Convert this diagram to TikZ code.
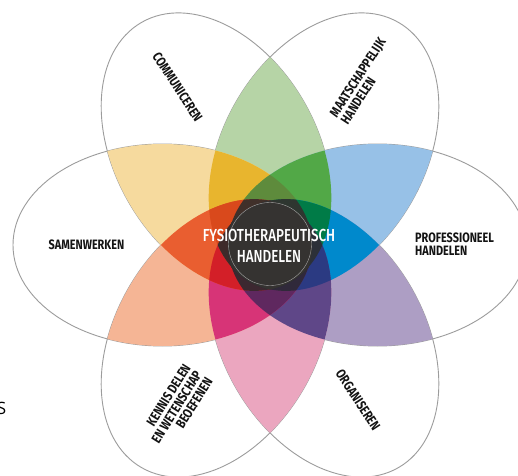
\documentclass[tikz,border=0pt]{standalone}
\usepackage{fontspec}
\setmainfont{Fira Sans}
\newfontfamily\labfont[FakeStretch=0.8]{Fira Sans Bold}
\newfontfamily\ctrfont[FakeStretch=0.77]{Fira Sans Medium}
\newfontfamily\sfont{Open Sans}
\definecolor{cLG}{HTML}{B6D4A6}
\definecolor{cLB}{HTML}{97C1E7}
\definecolor{cLP}{HTML}{AD9EC4}
\definecolor{cPK}{HTML}{EBA6BF}
\definecolor{cSA}{HTML}{F5B595}
\definecolor{cLY}{HTML}{F6DA9E}
\definecolor{cGO}{HTML}{E8B52E}
\definecolor{cGM}{HTML}{52A847}
\definecolor{cBL}{HTML}{0089CC}
\definecolor{cPU}{HTML}{5F4788}
\definecolor{cMA}{HTML}{D73477}
\definecolor{cOR}{HTML}{E95E30}
\definecolor{cOL}{HTML}{5E8B3C}
\definecolor{cDG}{HTML}{007B47}
\definecolor{cNV}{HTML}{2B3A82}
\definecolor{cDP}{HTML}{5F285F}
\definecolor{cRD}{HTML}{D31F28}
\definecolor{cDO}{HTML}{D9491C}
\definecolor{cCORE}{HTML}{353331}
\definecolor{cQa}{HTML}{40302A}
\definecolor{cQb}{HTML}{3E2A2A}
\definecolor{cQc}{HTML}{3C2830}
\definecolor{cQd}{HTML}{30293A}
\definecolor{cQe}{HTML}{2C3038}
\definecolor{cQf}{HTML}{2E3630}
\definecolor{cOut}{HTML}{9C9C9C}
\newcommand\petalpath[1]{[shift={({270+107.5*cos(#1)},{230+107.5*sin(#1)})},rotate=#1] (0,0) ellipse [x radius=149.5pt, y radius=101pt]}
\newcommand\cE[1]{\clip\petalpath{#1};}
\tikzset{
  lab/.style={font=\labfont\fontsize{13.6}{12.9}\selectfont, text=black!92, inner sep=0pt},
  ctr/.style={font=\ctrfont\fontsize{17.4}{21}\selectfont, text=white, inner sep=0pt, align=center},
  outline/.style={draw=cOut, line width=0.9pt}
}
\begin{document}
\begin{tikzpicture}[x=1pt,y=1pt]
\useasboundingbox (0,0) rectangle (518,475);
\clip (0,0) rectangle (518,475);
\fill[white] (0,0) rectangle (518,475);
% outlines
\foreach \a in {0,60,120,180,240,300} {\path[outline] \petalpath{\a};}
% pairs
\begin{scope}\cE{60}\cE{120}\fill[cLG] (0,0) rectangle (518,475);\end{scope}
\begin{scope}\cE{0}\cE{60}\fill[cLB] (0,0) rectangle (518,475);\end{scope}
\begin{scope}\cE{300}\cE{0}\fill[cLP] (0,0) rectangle (518,475);\end{scope}
\begin{scope}\cE{240}\cE{300}\fill[cPK] (0,0) rectangle (518,475);\end{scope}
\begin{scope}\cE{180}\cE{240}\fill[cSA] (0,0) rectangle (518,475);\end{scope}
\begin{scope}\cE{120}\cE{180}\fill[cLY] (0,0) rectangle (518,475);\end{scope}
% triples
\begin{scope}\cE{60}\cE{120}\cE{180}\fill[cGO] (0,0) rectangle (518,475);\end{scope}
\begin{scope}\cE{0}\cE{60}\cE{120}\fill[cGM] (0,0) rectangle (518,475);\end{scope}
\begin{scope}\cE{300}\cE{0}\cE{60}\fill[cBL] (0,0) rectangle (518,475);\end{scope}
\begin{scope}\cE{240}\cE{300}\cE{0}\fill[cPU] (0,0) rectangle (518,475);\end{scope}
\begin{scope}\cE{180}\cE{240}\cE{300}\fill[cMA] (0,0) rectangle (518,475);\end{scope}
\begin{scope}\cE{120}\cE{180}\cE{240}\fill[cOR] (0,0) rectangle (518,475);\end{scope}
% quads
\begin{scope}\cE{0}\cE{60}\cE{120}\cE{180}\fill[cOL] (0,0) rectangle (518,475);\end{scope}
\begin{scope}\cE{300}\cE{0}\cE{60}\cE{120}\fill[cDG] (0,0) rectangle (518,475);\end{scope}
\begin{scope}\cE{240}\cE{300}\cE{0}\cE{60}\fill[cNV] (0,0) rectangle (518,475);\end{scope}
\begin{scope}\cE{180}\cE{240}\cE{300}\cE{0}\fill[cDP] (0,0) rectangle (518,475);\end{scope}
\begin{scope}\cE{120}\cE{180}\cE{240}\cE{300}\fill[cRD] (0,0) rectangle (518,475);\end{scope}
\begin{scope}\cE{60}\cE{120}\cE{180}\cE{240}\fill[cDO] (0,0) rectangle (518,475);\end{scope}
% quints
\begin{scope}\cE{0}\cE{60}\cE{120}\cE{180}\cE{240}\fill[cQa] (0,0) rectangle (518,475);\end{scope}
\begin{scope}\cE{60}\cE{120}\cE{180}\cE{240}\cE{300}\fill[cQb] (0,0) rectangle (518,475);\end{scope}
\begin{scope}\cE{120}\cE{180}\cE{240}\cE{300}\cE{0}\fill[cQc] (0,0) rectangle (518,475);\end{scope}
\begin{scope}\cE{180}\cE{240}\cE{300}\cE{0}\cE{60}\fill[cQd] (0,0) rectangle (518,475);\end{scope}
\begin{scope}\cE{240}\cE{300}\cE{0}\cE{60}\cE{120}\fill[cQe] (0,0) rectangle (518,475);\end{scope}
\begin{scope}\cE{300}\cE{0}\cE{60}\cE{120}\cE{180}\fill[cQf] (0,0) rectangle (518,475);\end{scope}
% core
\begin{scope}\cE{0}\cE{60}\cE{120}\cE{180}\cE{240}\cE{300}\fill[cCORE] (0,0) rectangle (518,475);\end{scope}
% thin circle
\draw[gray!60, line width=0.35pt] (270,231) circle [radius=41.5pt];
% labels
\node[lab, rotate=-57] (comm) at (177.5,388) {COMMUNICEREN};
\node[lab, rotate=57, align=left] (maat) at (363,394) {MAATSCHAPPELIJK\\HANDELEN};
\node[lab] (samen) at (86.5,230) {SAMENWERKEN};
\node[lab, anchor=west, align=left] (prof) at (415,231) {PROFESSIONEEL\\HANDELEN};
\node[lab, rotate=-57] (org) at (358,75) {ORGANISEREN};
\node[lab, rotate=58, align=right] (kennis) at (176.5,68) {KENNIS DELEN\\EN WETENSCHAP\\BEOEFENEN};
\node[ctr] (center) at (269,229.5) {FYSIOTHERAPEUTISCH\\HANDELEN};
\node[font=\sfont\fontsize{17}{20}\selectfont, anchor=east, inner sep=0pt, text=black] (s) at (6.5,67) {S};
\end{tikzpicture}
\end{document}
